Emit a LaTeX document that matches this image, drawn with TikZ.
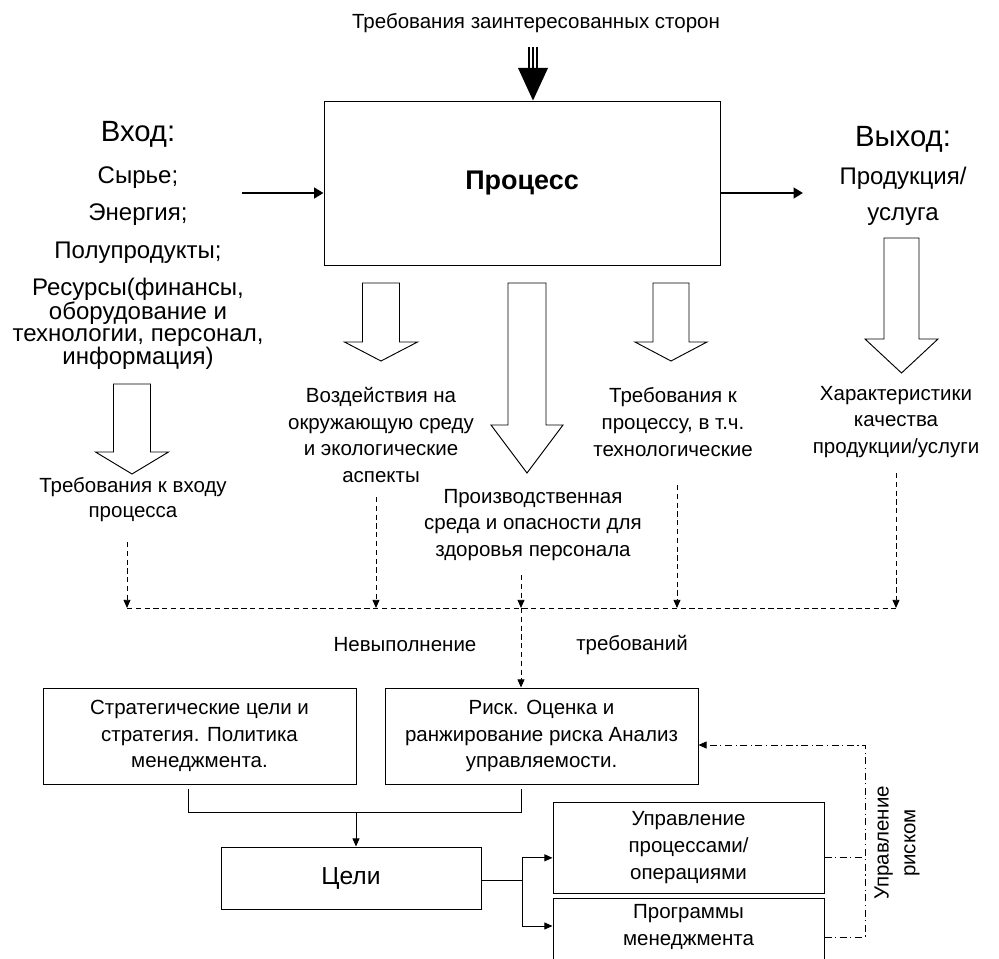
\documentclass[tikz,border=0pt]{standalone}
\usepackage{fontspec}
\setmainfont{Liberation Sans}
\usetikzlibrary{arrows.meta}

\tikzset{
  txt/.style={align=center, inner sep=0pt, font=\fontsize{17.5}{22.8}\selectfont},
  intxt/.style={align=center, inner sep=0pt, font=\fontsize{20.5}{18.5}\selectfont},
  headtxt/.style={align=center, inner sep=0pt, font=\fontsize{25}{30}\selectfont},
  box/.style={draw, line width=0.8pt, txt},
  hollow/.style={draw, line width=0.8pt, fill=white, line join=miter},
  conn/.style={line width=0.8pt},
  tip/.style={-{Triangle[width=6pt,length=7pt]}},
  bigtip/.style={line width=2.4pt, -{Triangle[width=9pt,length=8pt]}},
  dsh/.style={line width=0.8pt, dash pattern=on 4.5pt off 3pt},
  dashdot/.style={line width=0.8pt, dash pattern=on 6pt off 3pt on 1pt off 3pt},
}

\begin{document}
\begin{tikzpicture}[x=0.03cm, y=-0.03cm]
    \useasboundingbox (0,0) rectangle (999,959);
    \fill[white] (0,0) rectangle (999,959);
    \clip (0,0) rectangle (999,959);

    % Process and the requirement coming from above
    \node[txt] (stake) at (536,23) {Требования заинтересованных сторон};
    \node[box, minimum width=11.88cm, minimum height=4.92cm,
          font=\fontsize{23}{27}\selectfont\bfseries] (proc) at (522,183) {Процесс};
    \coordinate (stk) at (533,47);
    \draw[line width=1.1pt] ([xshift=-0.12cm]stk) -- ++(0,21);
    \draw[line width=1.1pt] (stk) -- ++(0,21);
    \draw[line width=1.1pt] ([xshift=0.12cm]stk) -- ++(0,21);
    \fill (518,68) -- (548,68) -- (proc.north -| stk) -- cycle;

    % Input
    \node[headtxt] (inhead) at (138,134) {Вход:};
    \node[intxt] (raw) at (138,178) {Сырье;};
    \node[intxt] (energy) at (138,215) {Энергия;};
    \node[intxt] (semi) at (138,253) {Полупродукты;};
    \node[intxt] (res) at (138,324) {Ресурсы(финансы,\\оборудование и\\технологии, персонал,\\информация)};
    \coordinate (inA) at (242,193);
    \draw[bigtip] (inA) -- (inA -| proc.west);

    % Output
    \node[headtxt] (outhead) at (903,139) {Выход:};
    \node[intxt, font=\fontsize{20.5}{30.7}\selectfont] (prod) at (903,196) {Продукция/\\услуга};
    \coordinate (outA) at (803,193);
    \draw[bigtip] (outA -| proc.east) -- (outA);

    % Block arrows
    \draw[hollow] (113.5,384) -- (150.5,384) -- (150.5,452) -- (168.5,452) -- (132,474) -- (95.5,452) -- (113.5,452) -- cycle;
    \draw[hollow] (362.5,283) -- (399.5,283) -- (399.5,342) -- (417.5,342) -- (381,361) -- (344.5,342) -- (362.5,342) -- cycle;
    \draw[hollow] (508,283) -- (546,283) -- (546,425) -- (563,425) -- (527,473) -- (491,425) -- (508,425) -- cycle;
    \draw[hollow] (653,283) -- (689,283) -- (689,342) -- (707,342) -- (671,361) -- (635,342) -- (653,342) -- cycle;
    \draw[hollow] (884,238) -- (919,238) -- (919,339) -- (938,339) -- (901.5,373) -- (865,339) -- (884,339) -- cycle;

    % Aspects
    \node[txt, font=\fontsize{17.5}{21.3}\selectfont] (inreq) at (133,500) {Требования к входу\\процесса};
    \node[txt] (envlbl) at (381,435) {Воздействия на\\окружающую среду\\и экологические\\аспекты};
    \node[txt] (hselbl) at (533,525) {Производственная\\среда и опасности для\\здоровья персонала};
    \node[txt] (reqlbl) at (673,422) {Требования к\\процессу, в т.ч.\\технологические};
    \node[txt] (qlbl) at (896,422) {Характеристики\\качества\\продукции/услуги};

    % Non-conformity lines
    \coordinate (d1top) at (127,542);  \coordinate (d1) at (127,608);
    \coordinate (d2top) at (376,497);  \coordinate (d2) at (376,608);
    \coordinate (d3top) at (521,575);  \coordinate (d3) at (521,608);
    \coordinate (d4top) at (677,485);  \coordinate (d4) at (677,608);
    \coordinate (d5top) at (896,473);  \coordinate (d5) at (896,608);
    \draw[dsh] (d1) -- (d5);
    \draw[dsh, tip] (d1top) -- (d1);
    \draw[dsh, tip] (d2top) -- (d2);
    \draw[dsh, tip] (d3top) -- (d3);
    \draw[dsh, tip] (d4top) -- (d4);
    \draw[dsh, tip] (d5top) -- (d5);
    \node[txt] (fail1) at (405,645) {Невыполнение};
    \node[txt] (fail2) at (632,645) {требований};

    % Management
    \node[box, minimum width=9.39cm, minimum height=2.88cm] (strat) at (199.5,736) {Стратегические цели и\\стратегия. Политика\\менеджмента.};
    \node[box, minimum width=9.39cm, minimum height=2.88cm] (risk) at (541.5,736) {Риск. Оценка и\\ранжирование риска Анализ\\управляемости.};
    \node[box, minimum width=7.8cm, minimum height=1.86cm,
          font=\fontsize{21}{25}\selectfont] (goals) at (351,878) {Цели};
    \node[box, minimum width=8.13cm, minimum height=2.73cm] (procctl) at (688.5,847.5) {Управление\\процессами/\\операциями};
    \node[box, minimum width=8.13cm, minimum height=2.76cm, anchor=north] (prog) at (688.5,898) {};
    \node[txt] (progtxt) at ([yshift=-0.88cm]prog.north) {Программы\\менеджмента};
    \draw[dsh, tip] (d3) -- (d3 |- risk.north);

    \coordinate (join) at (356,812);
    \coordinate (sA) at ([xshift=-0.32cm,yshift=-0.15cm]strat.south);
    \coordinate (rA) at ([xshift=-0.59cm,yshift=-0.15cm]risk.south);
    \draw[conn] (sA) -- (sA |- join) -- (rA |- join) -- (rA);
    \draw[conn, tip] (join) -- (join |- goals.north);

    \draw[conn] ([yshift=-0.06cm]goals.east) -- ++(41,0) coordinate (fork);
    \draw[conn, tip] (fork) |- ([yshift=-0.31cm]procctl.west);
    \draw[conn, tip] (fork) |- ([yshift=-0.84cm]prog.north west);

    % Risk control loop
    \coordinate (rc) at (865,745);
    \draw[dashdot] ([yshift=-0.29cm]procctl.east) -- ++(41,0);
    \draw[dashdot, tip] ([yshift=-1.17cm]prog.north east) -| (rc) -- (rc -| risk.east);
    \node[txt, rotate=90] (riskmgmt) at (897,843) {Управление\\риском};
\end{tikzpicture}
\end{document}
